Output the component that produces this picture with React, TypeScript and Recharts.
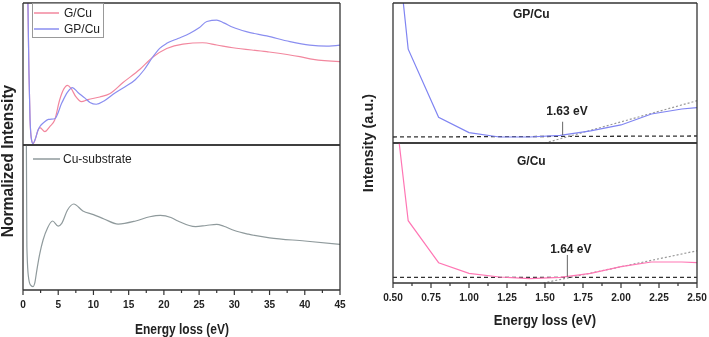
import React from 'react';
import { LineChart, Line, XAxis, YAxis, ReferenceLine, ReferenceDot, Legend } from 'recharts';

// ---- left panel: normalized EELS intensity vs energy loss (eV) ----
// [energy, intensity] pairs, intensity on a 0..100 scale per subplot
const gcuLeft = [
  [0.55, 200], [0.7, 100], [0.85, 50], [1.0, 18], [1.2, 4], [1.45, 1], [1.8, 5], [2.1, 10], [2.4, 12.2],
  [3.1, 9.4], [3.8, 13], [4.5, 17.6], [5.2, 31.7], [5.8, 39.5], [6.3, 42], [6.8, 40], [7.5, 34], [8.3, 30.5],
  [9.2, 32], [10.9, 33.8], [12.3, 36.1], [14.2, 44], [16.6, 53.3], [18.4, 61.8], [20.4, 68], [22.7, 71.1],
  [25.5, 72], [27.5, 70.4], [29.8, 68.5], [34.6, 65.7], [39.3, 62.2], [41.2, 60.3], [45, 58.7],
];
const gpcuLeft = [
  [0.55, 200], [0.7, 100], [0.85, 50], [1.0, 18], [1.2, 4], [1.4, 1], [1.8, 5], [2.1, 10], [2.4, 13],
  [3.0, 16], [3.6, 18], [4.5, 18.5], [5.5, 29.5], [6.3, 37], [7.0, 40.4], [7.8, 37], [8.8, 33], [9.5, 30],
  [10.4, 28.7], [11.5, 31], [13, 36.4], [14.5, 41], [15.9, 45.8], [17.2, 53], [18.4, 61.8], [19.4, 68],
  [20.4, 71.6], [22, 75], [23.7, 78.7], [25, 82.5], [26.1, 87], [27.5, 88], [28.5, 86], [29.8, 82.9],
  [31.7, 79.8], [34.6, 76.8], [37.9, 72.8], [40.7, 70.4], [43.1, 69.7], [45, 70.4],
];
const cuSubstrate = [
  [0.45, 130], [0.55, 30], [0.75, 10], [1.05, 3.5], [1.4, 2.3], [1.7, 5.5], [1.9, 11.7], [2.4, 25.5],
  [2.85, 34.5], [3.5, 43], [4.2, 47.6], [5.0, 44], [5.5, 46], [6.3, 55], [7.2, 59.3], [8.5, 54.5],
  [10, 52], [11.5, 49], [13.5, 45.5], [16, 47.6], [18, 50.5], [19.5, 51.5], [21, 50], [22, 47.6],
  [24.5, 43.7], [26, 44.5], [27.5, 45.3], [28.5, 44], [30, 41], [32, 38.5], [35, 36], [40, 33.8], [45, 31.5],
];
const leftMajorTicks = [0, 5, 10, 15, 20, 25, 30, 35, 40, 45];
const leftMinorTicks = [2.5, 7.5, 12.5, 17.5, 22.5, 27.5, 32.5, 37.5, 42.5];

// ---- right panel: onset of the loss spectrum (band gap fit) ----
const gpcuRight = [
  [0.5, 170], [0.6, 67], [0.8, 18.4], [1.0, 7.4], [1.2, 4.3], [1.4, 4.3], [1.6, 5.5], [1.8, 8.6],
  [2.0, 12.9], [2.2, 20.7], [2.4, 24.3], [2.5, 25.2],
];
const gcuRight = [
  [0.5, 138], [0.6, 44.5], [0.8, 14.5], [1.0, 6.9], [1.2, 4.3], [1.4, 3.1], [1.6, 4.0], [1.8, 6.9],
  [2.0, 11.7], [2.2, 15], [2.4, 15], [2.5, 14.5],
];
const gpcuBaseline = [[0.5, 4.3], [2.5, 5]];
const gpcuTangent = [[1.5, 0], [2.5, 30.2]];
const gcuBaseline = [[0.5, 4], [2.5, 4]];
const gcuTangent = [[1.49, 0], [2.5, 23]];
// onset markers: energy of the marker line, its bottom/top, label position and text
const gpcuOnset = { e: 1.616, y0: 5.7, y1: 15.2, le: 1.645, ly: 22.9, text: '1.63 eV' };
const gcuOnset = { e: 1.647, y0: 4.5, y1: 20, le: 1.67, ly: 24.3, text: '1.64 eV' };
const rightMajorTicks = [0.5, 0.75, 1.0, 1.25, 1.5, 1.75, 2.0, 2.25, 2.5];
const rightMinorTicks = [0.625, 0.875, 1.125, 1.375, 1.625, 1.875, 2.125, 2.375];

const toPts = (arr: number[][]) => arr.map(([e, v]) => ({ e, v }));

const FONT = "'Liberation Sans', Arial, sans-serif";
const AXIS = '#333';
const PINK_L = '#f2879e';
const BLUE_L = '#8a8ef0';
const GREY = '#8f9a9c';
const BLUE_R = '#7f84f2';
const PINK_R = '#ff76b4';
const legendColors: Record<string, string> = { 'G/Cu': PINK_L, 'GP/Cu': BLUE_L, 'Cu-substrate': GREY };

const makeTick = (majors: number[], fmt: (v: number) => string) => (props: any) => {
  const { x, y, payload } = props;
  const major = majors.some((m) => Math.abs(m - payload.value) < 1e-6);
  return (
    <g>
      <line x1={x} x2={x} y1={y} y2={y + (major ? 5 : 3)} stroke={AXIS} strokeWidth={1.2} />
      {major && (
        <text
          x={0}
          y={0}
          transform={`translate(${x},${y + 18}) scale(0.92,1)`}
          textAnchor="middle"
          fontSize={11}
          fontWeight="bold"
          fontFamily={FONT}
          fill="#222"
        >
          {fmt(payload.value)}
        </text>
      )}
    </g>
  );
};

const legendContent = (boxed: boolean, lineW: number, gap: number) => (props: any) => (
  <div
    style={{
      border: boxed ? '1px solid #999' : 'none',
      padding: boxed ? '1px 3px 0 1px' : 0,
      background: '#fff',
      fontFamily: FONT,
      fontSize: 12,
      color: '#222',
    }}
  >
    {(props.payload || []).map((entry: any) => (
      <div key={entry.value} style={{ display: 'flex', alignItems: 'center', height: boxed ? 16 : 17 }}>
        <svg width={lineW} height={4} style={{ marginRight: gap, display: 'block' }}>
          <line x1={0} x2={lineW} y1={2} y2={2} stroke={legendColors[entry.value] || entry.color} strokeWidth={1.5} />
        </svg>
        <span>{entry.value}</span>
      </div>
    ))}
  </div>
);

const frameY = { tick: false, tickLine: false, width: 1, stroke: AXIS, strokeWidth: 1.3 } as const;
const frameX = { tick: false, tickLine: false, height: 1, stroke: AXIS, strokeWidth: 1.3 } as const;

export default function App() {
  const leftTicks = [...leftMajorTicks, ...leftMinorTicks].sort((a, b) => a - b);
  const rightTicks = [...rightMajorTicks, ...rightMinorTicks].sort((a, b) => a - b);
  const titleBase: React.CSSProperties = {
    position: 'absolute',
    whiteSpace: 'nowrap',
    fontFamily: FONT,
    fontWeight: 'bold',
    color: '#222',
    lineHeight: 1,
  };
  const rightTitle = { fontSize: 12, fontWeight: 'bold', fontFamily: FONT, fill: '#222' };

  return (
    <div style={{ position: 'fixed', left: 0, top: 0, width: 709, height: 337, background: '#fff' }}>
      <div style={{ ...titleBase, left: 8, top: 161, fontSize: 15.6, transform: 'translate(-50%, -50%) rotate(-90deg)' }}>
        Normalized Intensity
      </div>
      <div style={{ ...titleBase, left: 368, top: 143, fontSize: 14.5, transform: 'translate(-50%, -50%) rotate(-90deg)' }}>
        Intensity (a.u.)
      </div>
      <div style={{ ...titleBase, left: 182, top: 328, fontSize: 15, transform: 'translate(-50%, -50%) scale(0.8, 1)' }}>
        Energy loss (eV)
      </div>
      <div style={{ ...titleBase, left: 545, top: 320, fontSize: 14.5, transform: 'translate(-50%, -50%) scale(0.9, 1)' }}>
        Energy loss (eV)
      </div>

      {/* left, top: G/Cu and GP/Cu */}
      <div style={{ position: 'absolute', left: 0, top: 0 }}>
        <LineChart width={345} height={150} margin={{ top: 2, left: 22, right: 4, bottom: 4 }}>
          <XAxis dataKey="e" type="number" domain={[0, 45]} {...frameX} />
          <XAxis xAxisId="top" orientation="top" type="number" domain={[0, 45]} {...frameX} />
          <YAxis type="number" domain={[0, 100]} allowDataOverflow {...frameY} />
          <YAxis yAxisId="r" orientation="right" type="number" domain={[0, 100]} {...frameY} />
          <Legend
            layout="vertical"
            verticalAlign="middle"
            align="center"
            wrapperStyle={{ left: 32, top: 3, width: 'auto', height: 'auto' }}
            content={legendContent(true, 25, 5)}
          />
          <Line data={toPts(gcuLeft)} dataKey="v" name="G/Cu" type="monotone" stroke={PINK_L} strokeWidth={1.2} dot={false} isAnimationActive={false} />
          <Line data={toPts(gpcuLeft)} dataKey="v" name="GP/Cu" type="monotone" stroke={BLUE_L} strokeWidth={1.2} dot={false} isAnimationActive={false} />
        </LineChart>
      </div>

      {/* left, bottom: Cu substrate */}
      <div style={{ position: 'absolute', left: 0, top: 140 }}>
        <LineChart width={360} height={197} margin={{ top: 4, left: 22, right: 19, bottom: 0 }}>
          <XAxis
            dataKey="e"
            type="number"
            domain={[0, 45]}
            ticks={leftTicks}
            interval={0}
            height={47}
            tickSize={0}
            tickMargin={0}
            tickLine={false}
            tick={makeTick(leftMajorTicks, (v) => String(v))}
            stroke={AXIS}
            strokeWidth={1.3}
          />
          <XAxis xAxisId="top" orientation="top" type="number" domain={[0, 45]} {...frameX} />
          <YAxis type="number" domain={[0, 100]} allowDataOverflow {...frameY} />
          <YAxis yAxisId="r" orientation="right" type="number" domain={[0, 100]} {...frameY} />
          <Legend
            layout="vertical"
            verticalAlign="middle"
            align="center"
            wrapperStyle={{ left: 33, top: 10, width: 'auto', height: 'auto' }}
            content={legendContent(false, 27, 3)}
          />
          <Line data={toPts(cuSubstrate)} dataKey="v" name="Cu-substrate" type="monotone" stroke={GREY} strokeWidth={1.2} dot={false} isAnimationActive={false} />
        </LineChart>
      </div>

      {/* right, top: GP/Cu onset */}
      <div style={{ position: 'absolute', left: 370, top: 0 }}>
        <LineChart width={339} height={148} margin={{ top: 2, left: 22, right: 11, bottom: 4 }}>
          <XAxis dataKey="e" type="number" domain={[0.5, 2.5]} allowDataOverflow {...frameX} />
          <XAxis xAxisId="top" orientation="top" type="number" domain={[0.5, 2.5]} {...frameX} />
          <YAxis type="number" domain={[0, 100]} allowDataOverflow {...frameY} />
          <YAxis yAxisId="r" orientation="right" type="number" domain={[0, 100]} {...frameY} />
          <Line data={toPts(gpcuBaseline)} dataKey="v" type="linear" stroke="#333" strokeWidth={1.3} strokeDasharray="4 3" dot={false} isAnimationActive={false} />
          <Line data={toPts(gpcuTangent)} dataKey="v" type="linear" stroke="#999" strokeWidth={1.2} strokeDasharray="2 2" dot={false} isAnimationActive={false} />
          <Line data={toPts(gpcuRight)} dataKey="v" type="linear" stroke={BLUE_R} strokeWidth={1.2} dot={false} isAnimationActive={false} />
          <ReferenceLine segment={[{ x: gpcuOnset.e, y: gpcuOnset.y0 }, { x: gpcuOnset.e, y: gpcuOnset.y1 }]} stroke="#666" strokeWidth={1} />
          <ReferenceDot x={gpcuOnset.le} y={gpcuOnset.ly} r={0} fill="none" stroke="none" label={{ value: gpcuOnset.text, position: 'center', ...rightTitle }} />
          <ReferenceDot x={1.41} y={92} r={0} fill="none" stroke="none" label={{ value: 'GP/Cu', position: 'center', ...rightTitle }} />
        </LineChart>
      </div>

      {/* right, bottom: G/Cu onset */}
      <div style={{ position: 'absolute', left: 370, top: 138 }}>
        <LineChart width={339} height={190} margin={{ top: 4, left: 22, right: 11, bottom: 0 }}>
          <XAxis
            dataKey="e"
            type="number"
            domain={[0.5, 2.5]}
            allowDataOverflow
            ticks={rightTicks}
            interval={0}
            height={45}
            tickSize={0}
            tickMargin={0}
            tickLine={false}
            tick={makeTick(rightMajorTicks, (v) => v.toFixed(2))}
            stroke={AXIS}
            strokeWidth={1.3}
          />
          <XAxis xAxisId="top" orientation="top" type="number" domain={[0.5, 2.5]} {...frameX} />
          <YAxis type="number" domain={[0, 100]} allowDataOverflow {...frameY} />
          <YAxis yAxisId="r" orientation="right" type="number" domain={[0, 100]} {...frameY} />
          <Line data={toPts(gcuBaseline)} dataKey="v" type="linear" stroke="#333" strokeWidth={1.3} strokeDasharray="4 3" dot={false} isAnimationActive={false} />
          <Line data={toPts(gcuTangent)} dataKey="v" type="linear" stroke="#999" strokeWidth={1.2} strokeDasharray="2 2" dot={false} isAnimationActive={false} />
          <Line data={toPts(gcuRight)} dataKey="v" type="linear" stroke={PINK_R} strokeWidth={1.2} dot={false} isAnimationActive={false} />
          <ReferenceLine segment={[{ x: gcuOnset.e, y: gcuOnset.y0 }, { x: gcuOnset.e, y: gcuOnset.y1 }]} stroke="#666" strokeWidth={1} />
          <ReferenceDot x={gcuOnset.le} y={gcuOnset.ly} r={0} fill="none" stroke="none" label={{ value: gcuOnset.text, position: 'center', ...rightTitle }} />
          <ReferenceDot x={1.41} y={87.4} r={0} fill="none" stroke="none" label={{ value: 'G/Cu', position: 'center', ...rightTitle }} />
        </LineChart>
      </div>
    </div>
  );
}
